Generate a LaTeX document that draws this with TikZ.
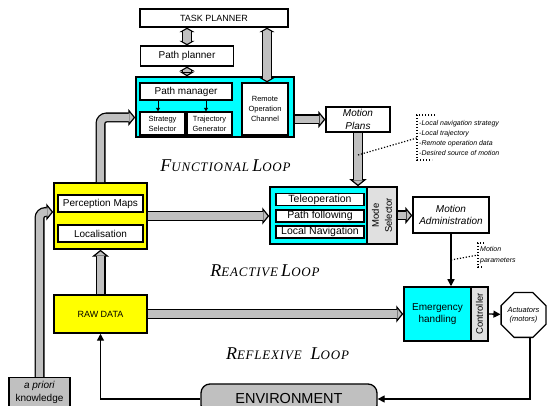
\documentclass[tikz,border=0pt]{standalone}
\usepackage{fontspec}
\setmainfont{Liberation Sans}
\newfontfamily\loopfont{Liberation Serif}[LetterSpace=6]
\usetikzlibrary{arrows.meta,shapes.geometric,calc}
\definecolor{arrgray}{HTML}{C0C0C0}
\definecolor{lgray}{HTML}{E0E0E0}
\definecolor{mycyan}{HTML}{00FFFF}
\definecolor{myyellow}{HTML}{FFFF00}
\newcommand{\fsz}[2]{\fontsize{#1}{#2}\selectfont}
\newcommand{\lcap}[2]{{\fontsize{18}{20}\selectfont #1}{\fontsize{13}{15}\selectfont #2}}
\begin{document}
\begin{tikzpicture}[x=1pt,y=-1pt,
  box/.style={draw=black, line width=1.3pt, fill=white, inner sep=0pt, align=center},
  container/.style={draw=black, line width=1.5pt, inner sep=0pt},
  garrow/.style={draw=black, line width=10pt,
    -{Triangle[length=7pt, width=17pt, line width=1.2pt, fill=arrgray]},
    postaction={draw=arrgray, line width=7.4pt, -, shorten >=6pt}},
  gdarrow/.style={draw=black, line width=10pt,
    {Triangle[length=4.5pt, width=15pt, line width=1.2pt, fill=arrgray]}-{Triangle[length=4.5pt, width=15pt, line width=1.2pt, fill=arrgray]},
    postaction={draw=arrgray, line width=7.4pt, -, shorten >=3.8pt, shorten <=3.8pt}},
  barrow/.style={draw=black, line width=1.3pt, -{Triangle[length=7pt, width=7pt]}},
  sarrow/.style={draw=black, line width=0.9pt, -{Triangle[length=3.5pt, width=4pt]}},
  dots/.style={draw=black, line width=1.2pt, dash pattern=on 1.2pt off 1.8pt},
  looplabel/.style={font=\loopfont\itshape, inner sep=0pt},
  notetext/.style={align=left, inner sep=0pt, anchor=west}
]
\useasboundingbox (0,0) rectangle (550,406);

% ---------- functional layer ----------
\node[box, minimum width=148pt, minimum height=18pt, font=\fsz{9}{11}] (task) at (214,18) {TASK PLANNER};
\node[box, minimum width=93pt, minimum height=20pt, font=\fsz{10}{12}] (pplan) at (187,56) {Path planner};
\node[container, fill=mycyan, minimum width=158pt, minimum height=60pt] (func) at (215,107) {};
\node[box, minimum width=92pt, minimum height=17pt, font=\fsz{10}{12}] (pman) at (186,91.5) {Path manager};
\node[box, minimum width=45pt, minimum height=23pt, font=\fsz{7.5}{10}] (strat) at (162.5,123.5) {Strategy\\Selector};
\node[box, minimum width=45pt, minimum height=23pt, font=\fsz{7.5}{10}] (traj) at (209.5,123.5) {Trajectory\\Generator};
\node[box, minimum width=46pt, minimum height=52pt, font=\fsz{7.5}{10}] (remote) at (265,109) {Remote\\Operation\\Channel};
\node[box, minimum width=64pt, minimum height=25pt, font=\fsz{10}{13}\itshape] (mplans) at (358,119.5) {Motion\\Plans};

% ---------- reactive layer ----------
\node[container, fill=myyellow, minimum width=93pt, minimum height=66pt] (perc) at (100.5,216) {};
\node[box, minimum width=85pt, minimum height=17pt, font=\fsz{10}{12}] (pmaps) at (100.5,203.5) {Perception Maps};
\node[box, minimum width=85pt, minimum height=17pt, font=\fsz{10}{12}] (loc) at (100.5,233.5) {Localisation};

\node[container, fill=mycyan, minimum width=97pt, minimum height=57pt] (mode) at (318.5,215.5) {};
\node[container, fill=lgray, minimum width=30pt, minimum height=57pt] (modesel) at (382,215.5) {};
\node[rotate=90, align=center, inner sep=0pt, font=\fsz{9.5}{13}] (modeseltxt) at (modesel) {Mode\\Selector};
\node[box, minimum width=88pt, minimum height=12pt, font=\fsz{10.5}{12}] (tele) at (320,199.5) {Teleoperation};
\node[box, minimum width=88pt, minimum height=12pt, font=\fsz{10.5}{12}] (pathf) at (320,216) {Path following};
\node[box, minimum width=88pt, minimum height=12pt, font=\fsz{10.5}{12}] (locnav) at (320,232) {Local Navigation};

\node[box, minimum width=76pt, minimum height=36pt, font=\fsz{10}{12.5}\itshape] (madmin) at (451,215) {Motion\\Administration};

% ---------- reflexive layer ----------
\node[container, fill=myyellow, minimum width=93pt, minimum height=38pt, font=\fsz{9}{11}] (raw) at (100.5,314) {RAW DATA};
\node[container, fill=mycyan, minimum width=67pt, minimum height=54pt, align=center, font=\fsz{10}{12.5}] (emerg) at (437.5,314) {Emergency\\handling};
\node[container, fill=lgray, minimum width=17pt, minimum height=54pt] (ctrl) at (479.5,314) {};
\node[rotate=90, inner sep=0pt, font=\fsz{9.5}{12}] (ctrltxt) at (ctrl) {Controller};
\node[draw=black, line width=1.3pt, fill=white, regular polygon, regular polygon sides=8, minimum size=46pt, inner sep=0pt, align=center, font=\fsz{7.5}{8.5}\itshape] (act) at (523.5,315) {Actuators\\(motors)};

\node[container, fill=arrgray, line width=1.3pt, minimum width=61pt, minimum height=30pt, align=center, font=\fsz{10}{13}, anchor=north] (apri) at (39.5,377) {\textit{a priori}\\knowledge};
\node[draw=black, line width=1.3pt, fill=arrgray, rounded corners=9pt, minimum width=176pt, minimum height=30pt, inner sep=0pt, font=\fsz{14.5}{16}] (env) at (289,399) {ENVIRONMENT};

% ---------- loop labels ----------
\node[looplabel] (floop) at (225.5,165.5) {\lcap{F}{UNCTIONAL} \lcap{L}{OOP}};
\node[looplabel] (rloop) at (265,271) {\lcap{R}{EACTIVE} \lcap{L}{OOP}};
\node[looplabel] (xloop) at (287.5,354) {\lcap{R}{EFLEXIVE}\hspace{9pt}\lcap{L}{OOP}};

% ---------- gray arrows ----------
\draw[gdarrow] (pplan.north |- task.south) -- (pplan.north);
\draw[gdarrow] (pplan.south) -- (pplan.south |- func.north);
\draw[gdarrow] ([xshift=2pt]remote.north |- task.south) -- ([xshift=2pt]remote.north);
\draw[garrow] (mplans.west -| func.east) -- (mplans.west);
\draw[garrow] (mplans.south) -- (mplans.south |- mode.north);
\draw[garrow, rounded corners=6pt] (perc.north) |- ([yshift=-10.5pt]func.west);
\draw[garrow] (perc.east) -- (perc.east -| mode.west);
\draw[garrow] (raw.north) -- (perc.south);
\draw[garrow] (raw.east) -- (raw.east -| emerg.west);
\draw[garrow, rounded corners=6pt] (apri.north) |- ([yshift=4pt]perc.west);
\draw[garrow] (modesel.east) -- (modesel.east -| madmin.west);

% ---------- black arrows ----------
\draw[sarrow] ([xshift=-4.5pt]strat.north |- pman.south) -- ([xshift=-4.5pt]strat.north);
\draw[sarrow] ([xshift=-3.5pt]traj.north |- pman.south) -- ([xshift=-3.5pt]traj.north);
\draw[barrow] (madmin.south) -- (madmin.south |- emerg.north);
\draw[barrow] (ctrl.east) -- (act);
\draw[barrow] ([xshift=6.5pt]act.south) |- (env.east);
\draw[barrow] (env.west) -| (raw.south);

% ---------- notes ----------
\node[notetext, font=\fsz{7}{10}\itshape] (note1) at (419,138.5) {-Local navigation strategy\\-Local trajectory\\-Remote operation data\\-Desired source of motion};
\draw[dots] (435,115) -- (417,115) -- (417,160) -- (432,160);
\coordinate (n1a) at (358,155);
\coordinate (n1b) at (417,138);
\draw[dots] (n1a) -- (n1b);

\node[notetext, font=\fsz{7}{11}\itshape] (note2) at (480,255.5) {Motion\\parameters};
\draw[dots] (484,243) -- (478,243) -- (478,267) -- (483,267);
\coordinate (n2a) at (451,260);
\coordinate (n2b) at (478,255);
\draw[dots] (n2a) -- (n2b);
\end{tikzpicture}
\end{document}
